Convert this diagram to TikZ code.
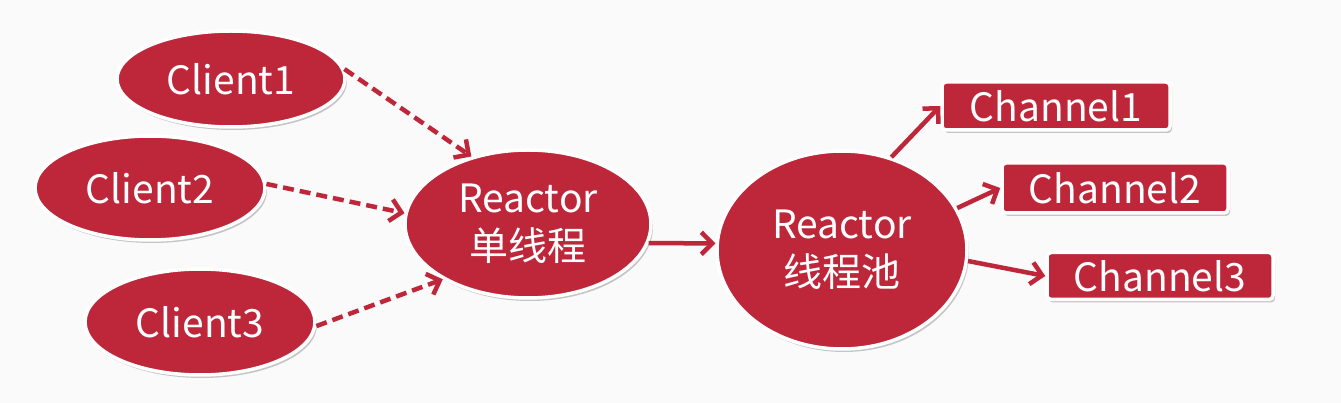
\documentclass[tikz,border=0pt]{standalone}
\usepackage{fontspec}
\setmainfont{Noto Sans CJK SC}
\usetikzlibrary{arrows.meta,shapes.geometric,shadows}
\definecolor{rred}{RGB}{190,38,58}
\definecolor{bg}{RGB}{250,250,250}
\tikzset{
  x=1pt,y=-1pt,
  shp/.style={fill=rred,draw=white,line width=3.5pt,text=white,inner sep=0pt,
    font=\fontsize{39}{48}\selectfont,align=center,
    drop shadow={shadow xshift=2pt,shadow yshift=-3pt,opacity=0.3,fill=black!70}},
  ell/.style={shp,ellipse},
  box/.style={shp,rectangle,rounded corners=4pt},
  con/.style={draw=rred,line width=4.5pt,-{Straight Barb[length=11pt,width=22pt]}},
  dcon/.style={con,dash pattern=on 11pt off 6pt},
}
\begin{document}
\begin{tikzpicture}
\fill[bg] (0,0) rectangle (1341,403);
\useasboundingbox (0,0) rectangle (1341,403);
\node[ell,minimum width=228,minimum height=96] (c1) at (231,79) {Client1};
\node[ell,minimum width=230,minimum height=104] (c2) at (150,188) {Client2};
\node[ell,minimum width=230,minimum height=106] (c3) at (200,322) {Client3};
\node[ell,minimum width=246,minimum height=148] (r1) at (528,224) {Reactor\\单线程};
\node[ell,minimum width=250,minimum height=198] (r2) at (842,250) {Reactor\\线程池};
\node[box,minimum width=228,minimum height=48] (h1) at (1056,106) {Channel1};
\node[box,minimum width=226,minimum height=50] (h2) at (1115,188) {Channel2};
\node[box,minimum width=226,minimum height=47] (h3) at (1160,276) {Channel3};
\draw[dcon] (c1.5) -- (r1.130);
\draw[dcon] (c2.2) -- (r1.175);
\draw[dcon] (c3.-2) -- (r1.213);
\draw[con] (r1.-9) -- (r2.177);
\draw[con] (r2.62) -- (h1.west);
\draw[con] (r2.20) -- (h2.west);
\draw[con] (r2.-5) -- (h3.west);
\end{tikzpicture}
\end{document}
